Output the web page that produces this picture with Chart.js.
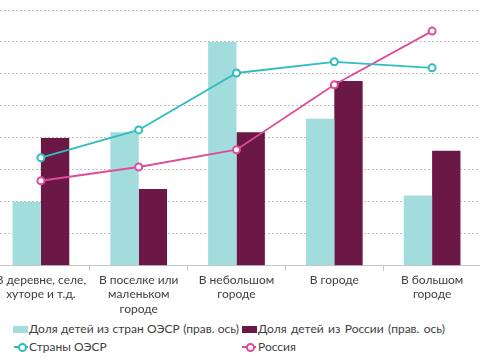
<!DOCTYPE html>
<html><head><meta charset="utf-8">
<script src="https://cdn.jsdelivr.net/npm/chart.js@4"></script>
<style>
html,body{margin:0;padding:0;background:#fff;overflow:hidden;width:480px;height:360px;position:relative;font-family:Lato,"Noto Sans",sans-serif;}
#wrap{position:absolute;left:-14px;top:0;width:501px;height:318px;}
.lg{position:absolute;font-size:12px;color:#404040;white-space:nowrap;line-height:15px;}
.box{position:absolute;width:15px;height:7px;}
.ln{position:absolute;width:14px;height:2px;}
.dot{position:absolute;width:5px;height:5px;border-radius:50%;background:#fff;border:2px solid;}
</style></head><body>
<div id="wrap"><canvas id="c"></canvas></div>
<div id="legend"></div>
<script>
const categories = [["В деревне, селе,","хуторе и т.д."],["В поселке или","маленьком","городе"],["В небольшом","городе"],["В городе"],["В большом","городе"]];
const shareOECD = [10, 20.9, 35, 23, 11];
const shareRussia = [20, 12, 20.9, 28.9, 18];
const lineOECD = [33.8, 42.5, 60.3, 63.8, 61.9];
const lineRussia = [26.6, 30.9, 36.3, 56.6, 73.4];
const seriesNames = ["Доля детей из стран ОЭСР (прав. ось)","Доля детей из России (прав. ось)","Страны ОЭСР","Россия"];
const colors = {tealBar:"#a2dcdc", maroon:"#6c1846", tealLine:"#2fbdbe", pink:"#df4c9a"};

new Chart(document.getElementById('c'), {
  data: {
    labels: categories,
    datasets: [
      {type:'line', label:seriesNames[2], data:lineOECD, yAxisID:'yL', borderColor:colors.tealLine, backgroundColor:'#fff', borderWidth:1.8, pointRadius:3.5, pointBorderWidth:2, pointBackgroundColor:'#fff', pointBorderColor:colors.tealLine, tension:0, order:0},
      {type:'line', label:seriesNames[3], data:lineRussia, yAxisID:'yL', borderColor:colors.pink, backgroundColor:'#fff', borderWidth:1.8, pointRadius:3.5, pointBorderWidth:2, pointBackgroundColor:'#fff', pointBorderColor:colors.pink, tension:0, order:0},
      {type:'bar', label:seriesNames[0], data:shareOECD, yAxisID:'yR', backgroundColor:colors.tealBar, categoryPercentage:0.58, barPercentage:1.0, order:1},
      {type:'bar', label:seriesNames[1], data:shareRussia, yAxisID:'yR', backgroundColor:colors.maroon, categoryPercentage:0.58, barPercentage:1.0, order:1}
    ]
  },
  options: {
    responsive:true, maintainAspectRatio:false, animation:false,
    layout:{padding:{top:10,left:0,right:0,bottom:0}},
    plugins:{legend:{display:false}, tooltip:{enabled:false}},
    scales:{
      x:{offset:true, grid:{offset:true, drawOnChartArea:false, drawTicks:true, tickLength:5, color:'#c8c8c8'}, border:{display:true, color:'#c8c8c8', width:1},
         ticks:{color:'#404040', font:{family:'Lato', size:12}, padding:2, maxRotation:0, autoSkip:false}},
      yL:{position:'left', min:0, max:80, ticks:{display:false, stepSize:10}, border:{display:false, dash:[2,2]}, grid:{drawTicks:false, color:'#c0c0c0', lineWidth:1, tickLength:0}},
      yR:{position:'right', min:0, max:40, ticks:{display:false, stepSize:5}, border:{display:false}, grid:{drawOnChartArea:false, drawTicks:false, tickLength:0}}
    }
  }
});

// legend (HTML), text spread to the reference widths
const lg = document.getElementById('legend');
const mctx = document.createElement('canvas').getContext('2d');
mctx.font = '12px Lato';
function add(html, text, left, top, target){
  lg.insertAdjacentHTML('beforeend', html);
  const d = document.createElement('div');
  d.className = 'lg'; d.textContent = text;
  d.style.left = left + 'px'; d.style.top = top + 'px';
  const w = mctx.measureText(text).width;
  const spaces = (text.match(/ /g) || []).length;
  if (spaces) d.style.wordSpacing = Math.max(0, (target - w) / spaces).toFixed(2) + 'px';
  lg.appendChild(d);
}
add(`<div class="box" style="left:13px;top:326px;background:${colors.tealBar}"></div>`, seriesNames[0], 29, 321, 210);
add(`<div class="box" style="left:242px;top:326px;background:${colors.maroon}"></div>`, seriesNames[1], 258, 321, 187);
add(`<div class="ln" style="left:14px;top:346px;background:${colors.tealLine}"></div><div class="dot" style="left:18px;top:343px;border-color:${colors.tealLine}"></div>`, seriesNames[2], 29, 339, 71);
add(`<div class="ln" style="left:242px;top:346px;background:${colors.pink}"></div><div class="dot" style="left:246px;top:343px;border-color:${colors.pink}"></div>`, seriesNames[3], 258, 339, 38);
</script>
</body></html>
